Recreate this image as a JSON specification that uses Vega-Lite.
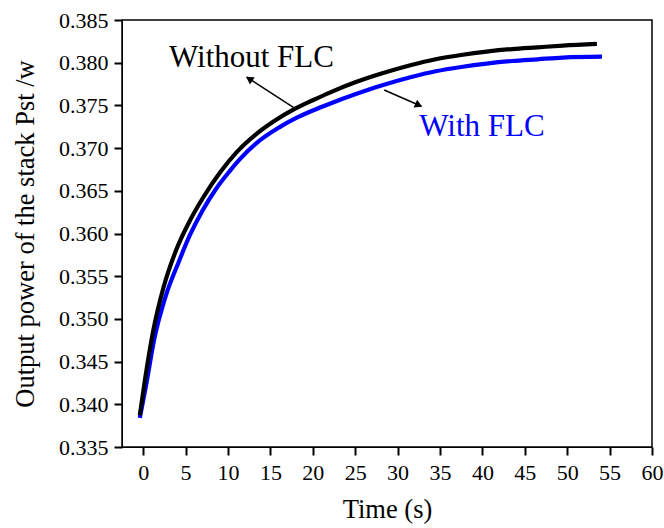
{
  "$schema": "https://vega.github.io/schema/vega-lite/v6.json",
  "width": 530,
  "height": 427,
  "autosize": {"type": "none"},
  "padding": {"left": 122, "top": 20, "right": 12, "bottom": 81},
  "config": {
    "view": {"stroke": "black", "strokeWidth": 1.5}
  },
  "datasets": {
    "curves": [
      {"series": "With FLC", "t": -0.4, "p": 0.3384},
      {"series": "With FLC", "t": 0.3, "p": 0.3420},
      {"series": "With FLC", "t": 1.3, "p": 0.3476},
      {"series": "With FLC", "t": 2.6, "p": 0.3525},
      {"series": "With FLC", "t": 4.2, "p": 0.3567},
      {"series": "With FLC", "t": 5.5, "p": 0.3598},
      {"series": "With FLC", "t": 7.0, "p": 0.3627},
      {"series": "With FLC", "t": 8.5, "p": 0.3651},
      {"series": "With FLC", "t": 10.2, "p": 0.3673},
      {"series": "With FLC", "t": 11.4, "p": 0.3687},
      {"series": "With FLC", "t": 13.5, "p": 0.3707},
      {"series": "With FLC", "t": 16.0, "p": 0.3724},
      {"series": "With FLC", "t": 18.0, "p": 0.3735},
      {"series": "With FLC", "t": 20.0, "p": 0.3744},
      {"series": "With FLC", "t": 22.0, "p": 0.3752},
      {"series": "With FLC", "t": 25.0, "p": 0.3763},
      {"series": "With FLC", "t": 28.0, "p": 0.3773},
      {"series": "With FLC", "t": 31.5, "p": 0.3783},
      {"series": "With FLC", "t": 34.5, "p": 0.3790},
      {"series": "With FLC", "t": 37.5, "p": 0.3795},
      {"series": "With FLC", "t": 40.5, "p": 0.3799},
      {"series": "With FLC", "t": 43.5, "p": 0.3802},
      {"series": "With FLC", "t": 46.5, "p": 0.3804},
      {"series": "With FLC", "t": 49.5, "p": 0.3806},
      {"series": "With FLC", "t": 54.1, "p": 0.3807},
      {"series": "Without FLC", "t": -0.4, "p": 0.3387},
      {"series": "Without FLC", "t": 0.2, "p": 0.3428},
      {"series": "Without FLC", "t": 1.2, "p": 0.3487},
      {"series": "Without FLC", "t": 2.4, "p": 0.3537},
      {"series": "Without FLC", "t": 3.9, "p": 0.3581},
      {"series": "Without FLC", "t": 5.5, "p": 0.3615},
      {"series": "Without FLC", "t": 7.0, "p": 0.3641},
      {"series": "Without FLC", "t": 9.1, "p": 0.3672},
      {"series": "Without FLC", "t": 11.0, "p": 0.3695},
      {"series": "Without FLC", "t": 13.4, "p": 0.3717},
      {"series": "Without FLC", "t": 15.5, "p": 0.3732},
      {"series": "Without FLC", "t": 17.7, "p": 0.3745},
      {"series": "Without FLC", "t": 20.0, "p": 0.3756},
      {"series": "Without FLC", "t": 22.0, "p": 0.3765},
      {"series": "Without FLC", "t": 25.0, "p": 0.3777},
      {"series": "Without FLC", "t": 28.0, "p": 0.3787},
      {"series": "Without FLC", "t": 31.5, "p": 0.3797},
      {"series": "Without FLC", "t": 34.5, "p": 0.3804},
      {"series": "Without FLC", "t": 37.5, "p": 0.3809},
      {"series": "Without FLC", "t": 40.5, "p": 0.3813},
      {"series": "Without FLC", "t": 43.5, "p": 0.3816},
      {"series": "Without FLC", "t": 46.5, "p": 0.3818},
      {"series": "Without FLC", "t": 49.5, "p": 0.3820},
      {"series": "Without FLC", "t": 53.5, "p": 0.3822}
    ],
    "arrows": [
      {"name": "Without FLC", "t": 17.71, "p": 0.37477, "t2": 12.2, "p2": 0.37832},
      {"name": "With FLC", "t": 28.42, "p": 0.37680, "t2": 32.8, "p2": 0.37490}
    ],
    "heads": [
      {"name": "Without FLC", "t": 12.5, "p": 0.37812},
      {"name": "With FLC", "t": 32.5, "p": 0.37503}
    ],
    "labels": [
      {"name": "Without FLC", "t": 12.77, "p": 0.37949},
      {"name": "With FLC", "t": 39.95, "p": 0.37141}
    ]
  },
  "layer": [
    {
      "data": {"name": "curves"},
      "mark": {"type": "line", "strokeWidth": 4.2, "interpolate": "monotone"},
      "encoding": {
        "x": {
          "field": "t", "type": "quantitative",
          "scale": {"domain": [-2.5, 60], "nice": false, "zero": false},
          "axis": {
            "title": "Time (s)",
            "tickCount": 13,
            "format": "d",
            "gridOpacity": 0,
            "domainColor": "black",
            "tickColor": "black", "tickWidth": 2, "tickSize": 8, "ticks": true,
            "labelColor": "black", "labelFont": "Liberation Serif", "labelFontSize": 22,
            "labelFlush": false,
            "labelPadding": 7,
            "titleColor": "black", "titleFont": "Liberation Serif", "titleFontSize": 26.5, "titleFontWeight": "normal",
            "titlePadding": 13
          }
        },
        "y": {
          "field": "p", "type": "quantitative",
          "scale": {"domain": [0.335, 0.385], "nice": false, "zero": false},
          "axis": {
            "title": "Output power of the stack Pst /w",
            "tickCount": 10,
            "format": ".3f",
            "gridOpacity": 0,
            "domainColor": "black",
            "tickColor": "black", "tickWidth": 2, "tickSize": 8, "ticks": true,
            "labelColor": "black", "labelFont": "Liberation Serif", "labelFontSize": 22,
            "labelPadding": 6,
            "titleColor": "black", "titleFont": "Liberation Serif", "titleFontSize": 26.5, "titleFontWeight": "normal",
            "titlePadding": 19
          }
        },
        "color": {
          "field": "series", "type": "nominal",
          "scale": {"domain": ["With FLC", "Without FLC"], "range": ["#0000ff", "#000000"]},
          "legend": null
        }
      }
    },
    {
      "data": {"name": "arrows"},
      "mark": {"type": "rule", "color": "black", "strokeWidth": 1.5},
      "encoding": {
        "x": {"field": "t", "type": "quantitative"},
        "y": {"field": "p", "type": "quantitative"},
        "x2": {"field": "t2"},
        "y2": {"field": "p2"}
      }
    },
    {
      "data": {"name": "heads"},
      "transform": [{"filter": "datum.name == 'Without FLC'"}],
      "mark": {"type": "point", "shape": "triangle-up", "filled": true, "color": "black", "size": 75, "angle": 303, "opacity": 1},
      "encoding": {
        "x": {"field": "t", "type": "quantitative"},
        "y": {"field": "p", "type": "quantitative"}
      }
    },
    {
      "data": {"name": "heads"},
      "transform": [{"filter": "datum.name == 'With FLC'"}],
      "mark": {"type": "point", "shape": "triangle-up", "filled": true, "color": "black", "size": 75, "angle": 114, "opacity": 1},
      "encoding": {
        "x": {"field": "t", "type": "quantitative"},
        "y": {"field": "p", "type": "quantitative"}
      }
    },
    {
      "data": {"name": "labels"},
      "mark": {"type": "text", "font": "Liberation Serif", "fontSize": 31, "baseline": "alphabetic", "align": "center"},
      "encoding": {
        "x": {"field": "t", "type": "quantitative"},
        "y": {"field": "p", "type": "quantitative"},
        "text": {"field": "name"},
        "color": {"field": "name", "type": "nominal"}
      }
    }
  ]
}
